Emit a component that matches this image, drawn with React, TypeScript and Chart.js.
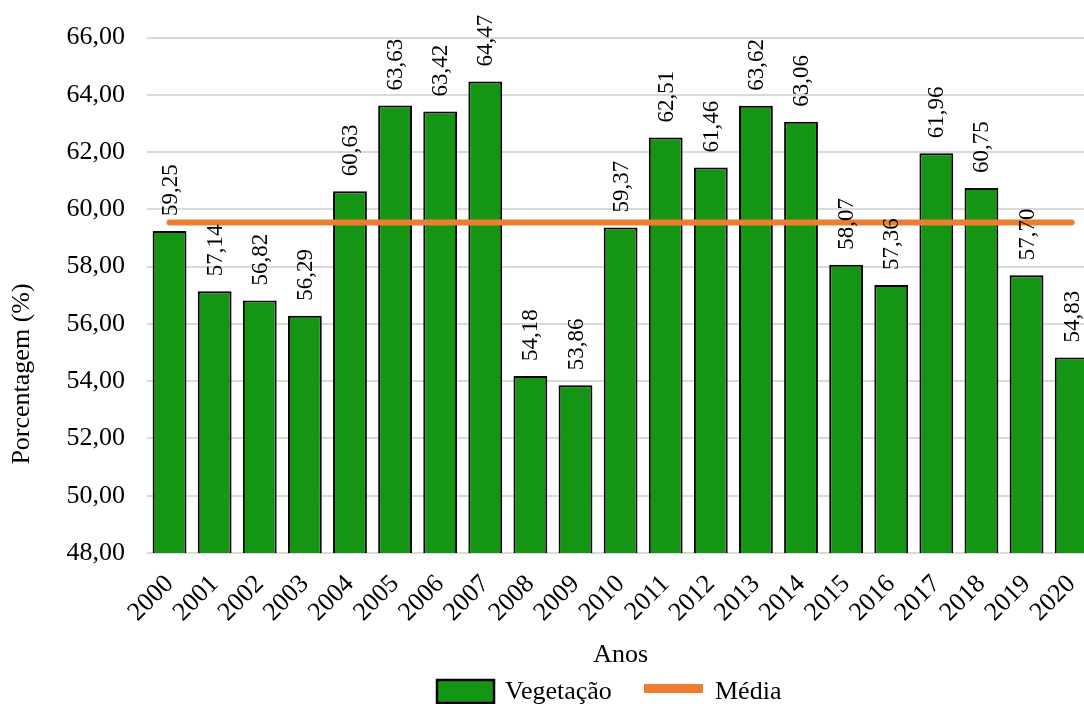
import { useEffect, useRef } from "react";
import { Chart, registerables } from "chart.js";

Chart.register(...registerables);

// Years on the category axis
const anos = [
  "2000", "2001", "2002", "2003", "2004", "2005", "2006", "2007", "2008", "2009", "2010",
  "2011", "2012", "2013", "2014", "2015", "2016", "2017", "2018", "2019", "2020",
];

// Vegetation cover per year (%)
const vegetacao = [
  59.25, 57.14, 56.82, 56.29, 60.63, 63.63, 63.42, 64.47, 54.18, 53.86, 59.37,
  62.51, 61.46, 63.62, 63.06, 58.07, 57.36, 61.96, 60.75, 57.7, 54.83,
];

// Mean of the period (%)
const media = 59.54;

// Value axis range
const yMin = 48;
const yMax = 66;
const yStep = 2;

const FONT = "'Liberation Serif', 'Times New Roman', serif";
const GREEN = "#149614";
const ORANGE = "#ED7D31";

const fmt = (v: number) => v.toFixed(2).replace(".", ",");

// Vertical value labels above each bar
const valueLabels = {
  id: "valueLabels",
  afterDatasetsDraw(chart: any) {
    const meta = chart.getDatasetMeta(0);
    const ctx = chart.ctx;
    ctx.save();
    ctx.font = `23px ${FONT}`;
    ctx.fillStyle = "#000";
    ctx.textAlign = "left";
    ctx.textBaseline = "middle";
    meta.data.forEach((bar: any, i: number) => {
      ctx.save();
      ctx.translate(bar.x + 1, bar.y - 15);
      ctx.rotate(-Math.PI / 2);
      ctx.fillText(fmt(vegetacao[i]), 0, 0);
      ctx.restore();
    });
    ctx.restore();
  },
};

// Axis titles and the legend row
const titlesAndLegend = {
  id: "titlesAndLegend",
  afterDraw(chart: any) {
    const ctx = chart.ctx;
    const area = chart.chartArea;
    ctx.save();
    ctx.fillStyle = "#000";
    ctx.font = `26px ${FONT}`;

    // x title
    ctx.textAlign = "center";
    ctx.textBaseline = "alphabetic";
    ctx.fillText("Anos", (area.left + area.right) / 2, 662);

    // y title
    ctx.save();
    ctx.translate(22, 374);
    ctx.rotate(-Math.PI / 2);
    ctx.textBaseline = "middle";
    ctx.fillText("Porcentagem (%)", 0, 0);
    ctx.restore();

    // legend
    ctx.textAlign = "left";
    ctx.textBaseline = "alphabetic";
    ctx.fillStyle = GREEN;
    ctx.fillRect(437, 680, 57, 23);
    ctx.lineWidth = 2.5;
    ctx.strokeStyle = "#000";
    ctx.strokeRect(437, 680, 57, 23);
    ctx.fillStyle = "#000";
    ctx.fillText("Vegetação", 505, 699);

    ctx.fillStyle = ORANGE;
    ctx.fillRect(644, 684, 59, 9);
    ctx.fillStyle = "#000";
    ctx.fillText("Média", 715, 699);
    ctx.restore();
  },
};

export default function App() {
  const canvasRef = useRef<HTMLCanvasElement | null>(null);

  useEffect(() => {
    const canvas = canvasRef.current;
    if (!canvas) return;
    const chart = new Chart(canvas, {
      type: "bar",
      data: {
        labels: anos,
        datasets: [
          {
            type: "bar",
            label: "Vegetação",
            data: vegetacao,
            backgroundColor: GREEN,
            borderColor: "#000",
            borderWidth: 2,
            categoryPercentage: 1,
            barPercentage: 0.75,
            order: 1,
          },
          {
            type: "line",
            label: "Média",
            data: anos.map(() => media),
            borderColor: ORANGE,
            borderWidth: 6,
            borderCapStyle: "round",
            pointRadius: 0,
            pointHoverRadius: 0,
            fill: false,
            order: 0,
          } as any,
        ],
      },
      options: {
        responsive: false,
        animation: false,
        devicePixelRatio: 1,
        layout: { padding: { top: 36, right: 12, left: 0, bottom: 0 } },
        plugins: {
          legend: { display: false },
          tooltip: { enabled: false },
        },
        scales: {
          x: {
            grid: { display: false, drawTicks: false },
            border: { display: false },
            ticks: {
              color: "#000",
              font: { family: FONT, size: 26 },
              minRotation: 45,
              maxRotation: 45,
              autoSkip: false,
              padding: 16,
            },
            afterFit: (scale: any) => {
              scale.height = 151;
            },
          },
          y: {
            min: yMin,
            max: yMax,
            grid: { color: "#d9d9d9", lineWidth: 2, drawTicks: false },
            border: { display: false },
            ticks: {
              stepSize: yStep,
              color: "#000",
              font: { family: FONT, size: 26 },
              padding: 22,
              callback: (v: any) => fmt(Number(v)),
            },
            afterFit: (scale: any) => {
              scale.width = 147;
            },
          },
        },
      },
      plugins: [valueLabels, titlesAndLegend],
    });
    return () => chart.destroy();
  }, []);

  return (
    <div
      style={{
        position: "fixed",
        left: 0,
        top: 0,
        width: 1084,
        height: 704,
        overflow: "hidden",
        background: "#fff",
      }}
    >
      <canvas ref={canvasRef} width={1110} height={704} style={{ display: "block" }} />
    </div>
  );
}
